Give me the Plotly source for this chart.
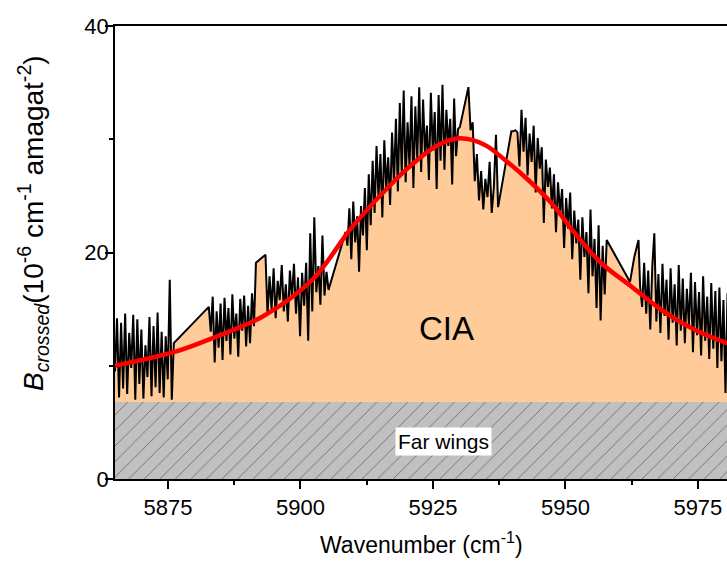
import numpy as np
import plotly.graph_objects as go

seg_a_range = (5865.0, 5876.1)
seg_a = [9.5, 14.2, 7.2, 13.8, 8.0, 14.6, 7.5, 12.9, 9.8, 14.5, 7.0, 14.1, 8.4, 13.2, 7.1,
         11.8, 9.0, 14.3, 7.3, 13.5, 8.1, 14.7, 7.6, 13.0, 7.2, 12.6, 8.8, 17.6, 7.0, 12.0]

seg_b_range = (5882.7, 5891.6)
seg_b = [15.2, 13.0, 16.1, 10.3, 14.8, 11.6, 15.5, 10.5, 16.0, 12.2, 15.1, 11.0, 16.3,
         12.4, 14.6, 10.8, 15.9, 13.1, 16.2, 11.7, 15.3, 12.0, 16.4, 13.5, 19.1]

seg_c_range = (5893.4, 5905.3)
seg_c = [19.8, 14.5, 17.9, 15.0, 18.6, 14.2, 17.5, 15.8, 18.9, 14.8, 17.2, 13.9, 18.4, 16.0,
         19.0, 14.6, 17.8, 12.6, 18.2, 15.3, 19.1, 12.2, 21.7, 14.8, 23.1, 16.5, 18.8, 15.4,
         21.5, 16.2, 18.3, 16.7]

seg_d_range = (5908.5, 5930.1)
seg_d = [21.8, 20.6, 23.9, 19.4, 24.5, 20.9, 23.2, 18.3, 24.1, 21.5,
         25.7, 20.2, 26.9, 22.4, 28.1, 23.5, 29.4, 24.8, 28.7, 23.1,
         29.9, 25.6, 28.4, 24.2, 30.6, 26.1, 31.8, 25.4, 33.2, 27.0,
         34.3, 26.2, 31.5, 27.6, 33.8, 25.7, 32.9, 28.3, 34.6, 27.1,
         33.5, 28.6, 31.2, 26.4, 34.1, 29.0, 32.4, 25.6, 33.9, 28.1,
         34.8, 27.3, 32.6, 29.4, 31.8, 26.0, 33.6, 28.5, 30.9, 31.1]

seg_e1_range = (5931.7, 5937.3)
seg_e1 = [34.6, 30.8, 31.5, 26.3, 28.7, 24.6, 27.2, 23.8, 26.5, 24.9, 28.0, 23.5, 25.8, 30.4, 24.0]

seg_e2_range = (5939.8, 5957.8)
seg_e2 = [30.7, 30.7, 30.8, 30.6, 27.6, 32.6, 28.9, 31.9, 26.8, 30.5,
          28.0, 31.2, 25.3, 30.1, 27.4, 29.3, 22.6, 28.2, 25.8, 27.5,
          23.9, 26.9, 21.8, 26.2, 23.5, 25.6, 20.4, 24.8, 22.1, 25.3,
          19.4, 23.7, 20.8, 22.9, 17.6, 23.1, 19.6, 21.8, 16.4, 23.8,
          17.9, 21.2, 15.1, 22.4, 14.0, 20.6, 16.3, 21.1]

seg_g_range = (5962.2, 5963.8)
seg_g = [17.4, 19.6, 21.1]

seg_f_range = (5964.1, 5980.6)
seg_f = [17.0, 15.2, 19.1, 14.6, 18.4, 13.2, 18.8, 21.7, 13.9, 18.1, 12.9, 19.0, 14.4, 17.6,
         12.3, 18.6, 13.8, 17.2, 11.8, 18.9, 13.1, 17.7, 12.0, 16.8, 13.6, 18.2, 11.2, 17.4,
         12.7, 16.5, 10.9, 17.9, 12.2, 16.1, 10.6, 17.3, 11.5, 16.6, 9.8, 16.9, 10.4, 15.8,
         7.6, 16.4]

# ---- fitted curve (red) ----
fit_x = [5865.0, 5876.4, 5883.3, 5892.8, 5902.2, 5909.8, 5917.9, 5922.4, 5926.0, 5930.1,
         5934.8, 5938.6, 5943.0, 5947.4, 5951.8, 5956.8, 5962.5, 5968.2, 5974.5, 5980.6]
fit_y = [10.0, 11.24, 12.42, 14.33, 17.57, 22.28, 26.4, 28.3, 29.5, 30.08,
         29.5, 28.17, 26.4, 24.34, 21.7, 19.05, 16.98, 14.92, 13.16, 11.98]

far_wings_level = 6.8
x_range = [5865, 5980.5]
y_range = [0, 40]

segments = [(seg_a_range, seg_a), (seg_b_range, seg_b), (seg_c_range, seg_c),
            (seg_d_range, seg_d), (seg_e1_range, seg_e1), (seg_e2_range, seg_e2),
            (seg_g_range, seg_g), (seg_f_range, seg_f)]
data_x, data_y = [], []
for (x0, x1), vals in segments:
    data_x.extend(np.linspace(x0, x1, len(vals)).tolist())
    data_y.extend(vals)

FONT = "Arial, Liberation Sans, sans-serif"

fig = go.Figure()
fig.add_trace(go.Scatter(x=data_x, y=data_y, mode="lines", fill="tozeroy",
                         fillcolor="#FFCC99", line=dict(color="black", width=2),
                         hoverinfo="skip", showlegend=False))
# hatched "far wings" band
fig.add_trace(go.Scatter(x=[5855, 5990, 5990, 5855, 5855],
                         y=[0, 0, far_wings_level, far_wings_level, 0],
                         mode="lines", fill="toself", line=dict(width=0, color="#c0c0c0"),
                         fillcolor="#c0c0c0",
                         fillpattern=dict(shape="/", fgcolor="#505050", bgcolor="#c0c0c0",
                                          size=11, solidity=0.06, fillmode="replace"),
                         hoverinfo="skip", showlegend=False))
fig.add_trace(go.Scatter(x=fit_x, y=fit_y, mode="lines", line=dict(color="#ff0000", width=4.5, shape="spline"),
                         hoverinfo="skip", showlegend=False))

fig.add_annotation(x=5927.6, y=13.3, text="CIA", showarrow=False,
                   font=dict(family=FONT, size=33, color="black"))
fig.add_annotation(x=5927.0, y=3.35, text="Far wings", showarrow=False,
                   bgcolor="white", borderpad=2,
                   font=dict(family=FONT, size=21, color="black"))
# axis titles placed as in the reference
fig.add_annotation(xref="paper", yref="paper", x=-0.134, y=0.565, textangle=-90,
                   xanchor="center", yanchor="middle",
                   text="<i>B</i><sub><i>crossed</i></sub>(10<sup>-6</sup> cm<sup>-1</sup> amagat<sup>-2</sup>)",
                   showarrow=False, font=dict(family=FONT, size=28, color="black"))
fig.add_annotation(xref="paper", yref="paper", x=0.5, y=-0.141,
                   xanchor="center", yanchor="middle",
                   text="Wavenumber (cm<sup>-1</sup>)",
                   showarrow=False, font=dict(family=FONT, size=23, color="black"))

fig.update_layout(
    width=727, height=562,
    margin=dict(l=115, r=0, t=26, b=83, autoexpand=False),
    paper_bgcolor="white", plot_bgcolor="white",
    font=dict(family=FONT, color="black", size=20),
    showlegend=False,
)
fig.update_xaxes(range=x_range, showgrid=False, zeroline=False, automargin=False,
                 showline=True, linecolor="black", linewidth=1.5, mirror=True,
                 ticks="outside", ticklen=8, tickwidth=1.5, tickcolor="black",
                 tickmode="array", tickvals=[5875, 5900, 5925, 5950, 5975],
                 tickfont=dict(family=FONT, size=22), ticklabelstandoff=0,
                 minor=dict(ticks="outside", ticklen=4, tickwidth=1.5, tickcolor="black",
                            tickvals=[5862.5, 5887.5, 5912.5, 5937.5, 5962.5]))
fig.update_yaxes(range=y_range, showgrid=False, zeroline=False, automargin=False,
                 showline=True, linecolor="black", linewidth=1.5, mirror=False,
                 ticks="outside", ticklen=8, tickwidth=1.5, tickcolor="black",
                 tickmode="array", tickvals=[0, 20, 40],
                 tickfont=dict(family=FONT, size=22), ticklabelstandoff=-8,
                 minor=dict(ticks="outside", ticklen=4, tickwidth=1.5, tickcolor="black",
                            tickvals=[10, 30]))

fig.write_html("out.html", config={"displayModeBar": False},
               post_script="document.body.style.margin='0';document.body.style.overflow='hidden';")
